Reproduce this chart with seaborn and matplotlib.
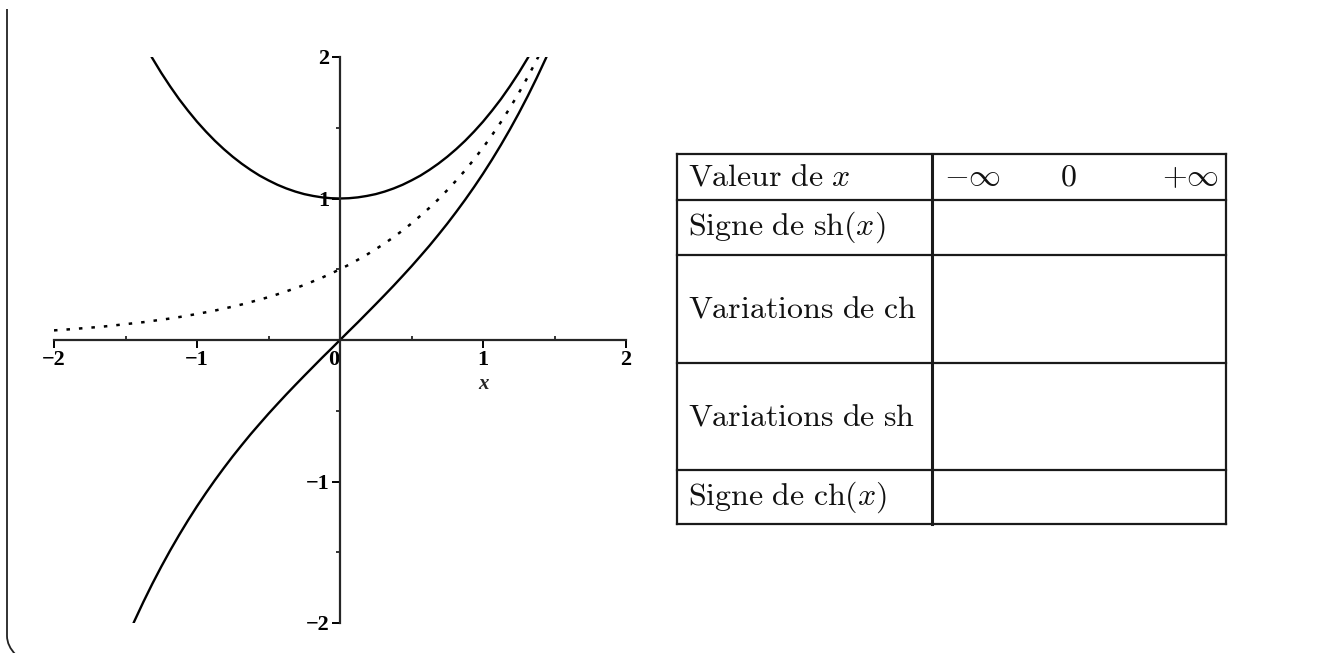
import pandas as pd
import seaborn as sns
import matplotlib.pyplot as plt
from matplotlib.path import Path
from matplotlib.patches import PathPatch
from matplotlib.transforms import ScaledTranslation

# Curve samples
x_hyp = [-1.5, -1.4375, -1.375, -1.3125, -1.25, -1.1875, -1.125, -1.0625, -1.0,
         -0.9375, -0.875, -0.8125, -0.75, -0.6875, -0.625, -0.5625, -0.5, -0.4375,
         -0.375, -0.3125, -0.25, -0.1875, -0.125, -0.0625, 0.0, 0.0625, 0.125, 0.1875,
         0.25, 0.3125, 0.375, 0.4375, 0.5, 0.5625, 0.625, 0.6875, 0.75, 0.8125, 0.875,
         0.9375, 1.0, 1.0625, 1.125, 1.1875, 1.25, 1.3125, 1.375, 1.4375, 1.5]
ch_vals = [2.352, 2.224, 2.104, 1.992, 1.888, 1.792, 1.702, 1.620, 1.543, 1.473,
           1.408, 1.349, 1.295, 1.246, 1.202, 1.162, 1.128, 1.097, 1.071, 1.049, 1.031,
           1.018, 1.008, 1.002, 1.0, 1.002, 1.008, 1.018, 1.031, 1.049, 1.071, 1.097,
           1.128, 1.162, 1.202, 1.246, 1.295, 1.349, 1.408, 1.473, 1.543, 1.620, 1.702,
           1.792, 1.888, 1.992, 2.104, 2.224, 2.352]
sh_vals = [-2.129, -1.986, -1.851, -1.723, -1.602, -1.487, -1.378, -1.274, -1.175,
           -1.081, -0.991, -0.905, -0.822, -0.743, -0.666, -0.593, -0.521, -0.452,
           -0.384, -0.318, -0.253, -0.189, -0.125, -0.063, 0.0, 0.063, 0.125, 0.189,
           0.253, 0.318, 0.384, 0.452, 0.521, 0.593, 0.666, 0.743, 0.822, 0.905, 0.991,
           1.081, 1.175, 1.274, 1.378, 1.487, 1.602, 1.723, 1.851, 1.986, 2.129]
x_exp = [-2.0, -1.9375, -1.875, -1.8125, -1.75, -1.6875, -1.625, -1.5625] + x_hyp
half_exp_vals = [0.068, 0.072, 0.077, 0.082, 0.087, 0.092, 0.098, 0.105, 0.112, 0.119,
                 0.126, 0.135, 0.143, 0.152, 0.162, 0.173, 0.184, 0.196, 0.208, 0.222,
                 0.236, 0.251, 0.268, 0.285, 0.303, 0.323, 0.344, 0.366, 0.389, 0.415,
                 0.441, 0.470, 0.5, 0.532, 0.567, 0.603, 0.642, 0.683, 0.727, 0.774,
                 0.824, 0.878, 0.934, 0.994, 1.059, 1.127, 1.199, 1.277, 1.359, 1.447,
                 1.540, 1.639, 1.745, 1.858, 1.978, 2.105, 2.241]

x_major = [-2, -1, 0, 1, 2]
x_major_labels = ['\u22122', '\u22121', '0', '1', '2']
y_major = [-2, -1, 1, 2]
y_major_labels = ['\u22122', '\u22121', '1', '2']
minor_ticks = [-1.5, -0.5, 0.5, 1.5]

# Table contents
row_labels = [r'$\mathrm{Valeur\ de\ }x$', r'$\mathrm{Signe\ de\ sh}(x)$',
              r'$\mathrm{Variations\ de\ ch}$', r'$\mathrm{Variations\ de\ sh}$',
              r'$\mathrm{Signe\ de\ ch}(x)$']
header_values = [r'$-\infty$', r'$0$', r'$+\infty$']

hyp = pd.DataFrame({'x': x_hyp, 'ch': ch_vals, 'sh': sh_vals})
half = pd.DataFrame({'x': x_exp, 'e': half_exp_vals})

sns.set_style('white')
plt.rcParams['mathtext.fontset'] = 'cm'

W, H = 1323, 653
fig = plt.figure(figsize=(W / 100, H / 100), dpi=100)

# background layer in pixel coordinates (frame + table)
bg = fig.add_axes([0, 0, 1, 1])
bg.set_xlim(0, W)
bg.set_ylim(H, 0)
bg.axis('off')

frame = Path([(7, 9), (7, 636), (7, 646), (16, 655)],
             [Path.MOVETO, Path.LINETO, Path.CURVE3, Path.CURVE3])
bg.add_patch(PathPatch(frame, fill=False, lw=1.3, color='#222222'))

tx0, tx1, tdiv = 677, 1226, 932
row_edges = [154, 200, 255, 363, 470, 524]
lc = '#1a1a1a'
for yy in row_edges:
    bg.plot([tx0, tx1], [yy, yy], color=lc, lw=1.6, solid_capstyle='projecting')
for xx, w in [(tx0, 1.6), (tdiv, 2.2), (tx1, 1.6)]:
    bg.plot([xx, xx], [row_edges[0], row_edges[-1]], color=lc, lw=w, solid_capstyle='projecting')
for i, lab in enumerate(row_labels):
    yc = (row_edges[i] + row_edges[i + 1]) / 2
    bg.text(688, yc, lab, fontsize=23, ha='left', va='center', color='#111111')
for xp, val in zip([972, 1068, 1190], header_values):
    bg.text(xp, (row_edges[0] + row_edges[1]) / 2, val, fontsize=23, ha='center',
            va='center', color='#111111')

# function plot
ax = fig.add_axes([54 / W, 1 - 623 / H, (626 - 54) / W, (623 - 57) / H])
ax.patch.set_alpha(0)
sns.lineplot(data=hyp, x='x', y='ch', ax=ax, color='black', lw=1.7)
sns.lineplot(data=hyp, x='x', y='sh', ax=ax, color='black', lw=1.7)
sns.lineplot(data=half, x='x', y='e', ax=ax, color='black', lw=1.8,
             linestyle=(0, (1.4, 3.6)))
ax.set_xlim(-2, 2)
ax.set_ylim(-2, 2)
ax.set_xlabel('')
ax.set_ylabel('')

for s in ['top', 'right']:
    ax.spines[s].set_visible(False)
ax.spines['left'].set_position(('data', 0))
ax.spines['bottom'].set_position(('data', 0))
ax.spines['left'].set_linewidth(1.6)
ax.spines['bottom'].set_linewidth(1.6)

tick_font = dict(fontfamily='Liberation Serif', fontweight='bold', fontsize=16)
ax.set_xticks(x_major)
ax.set_xticklabels(x_major_labels, **tick_font)
ax.set_yticks(y_major)
ax.set_yticklabels(y_major_labels, **tick_font)
ax.set_xticks(minor_ticks, minor=True)
ax.set_yticks(minor_ticks, minor=True)
ax.tick_params(which='both', bottom=True, left=True, top=False, right=False)
ax.tick_params(which='major', direction='out', length=5.5, width=1.4, pad=2,
               colors='black')
ax.tick_params(axis='x', which='minor', direction='in', length=3, width=1.3)
ax.tick_params(axis='y', which='minor', direction='out', length=3, width=1.3)

# nudge the "0" label left of the vertical axis, as in the original
zero_lab = ax.get_xticklabels()[2]
zero_lab.set_transform(zero_lab.get_transform() + ScaledTranslation(-6 / 100, 0, fig.dpi_scale_trans))

ax.annotate('x', xy=(1, 0), xytext=(0, -32), textcoords='offset points',
            ha='center', va='center', fontsize=15, fontfamily='Liberation Serif',
            fontweight='bold', fontstyle='italic')

fig.savefig('out.png', dpi=100)
